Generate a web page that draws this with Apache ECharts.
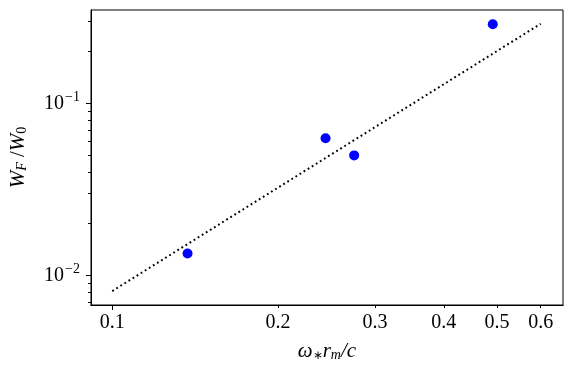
<!DOCTYPE html>
<html>
<head>
<meta charset="utf-8">
<script src="https://cdn.jsdelivr.net/npm/echarts@6/dist/echarts.min.js"></script>
<style>
  html, body { margin: 0; padding: 0; background: #fff; }
  #chart { width: 571px; height: 372px; }
</style>
</head>
<body>
<div id="chart"></div>
<script>
// 数据
const omega = [0.137, 0.244, 0.275, 0.491]
const wRatio = [0.0134, 0.0626, 0.0498, 0.288]
const fitX = [0.1, 0.6]
const fitY = [0.0081, 0.29]

// 刻度
const xLabels = [0.1, 0.2, 0.3, 0.4, 0.5, 0.6]
const xMajor = [0.1]
const xMinor = [0.2, 0.3, 0.4, 0.5, 0.6]
const yMajor = [0.01, 0.1]
const yMinor = [0.007, 0.008, 0.009, 0.02, 0.03, 0.04, 0.05, 0.06, 0.07, 0.08, 0.09, 0.2, 0.3]

const font = 'Liberation Serif'
const xRange = [0.0915, 0.6586]
const yRange = [0.00672, 0.3487]

const chart = echarts.init(document.getElementById('chart'))

const baseX = {
  type: 'log',
  gridIndex: 0,
  position: 'bottom',
  min: xRange[0],
  max: xRange[1],
  splitLine: { show: false },
  axisLine: { lineStyle: { color: '#000', width: 1 } }
}
const baseY = {
  type: 'log',
  gridIndex: 0,
  position: 'left',
  min: yRange[0],
  max: yRange[1],
  splitLine: { show: false },
  axisLine: { lineStyle: { color: '#000', width: 1 } }
}

const option = {
  animation: false,
  grid: {
    left: 91, right: 8, top: 10, bottom: 67,
    outerBoundsMode: 'none',
    containLabel: false,
    show: true, borderColor: '#000', borderWidth: 1
  },
  xAxis: [
    {
      ...baseX,
      name: '{i|ω}{s|∗}{i|r}{si|m}{i|/c}',
      nameLocation: 'middle',
      nameGap: 35,
      nameTextStyle: {
        rich: {
          i: { fontFamily: font, fontStyle: 'italic', fontSize: 21, color: '#000' },
          s: { fontFamily: font, fontSize: 12, color: '#000', padding: [10, 0, 0, 0] },
          si: { fontFamily: font, fontStyle: 'italic', fontSize: 14, color: '#000', padding: [8, 0, 0, 0] }
        }
      },
      axisTick: { customValues: xMajor, length: 5, lineStyle: { color: '#000' } },
      axisLabel: {
        customValues: xLabels,
        fontFamily: font, fontSize: 20, color: '#000', margin: 8,
        formatter: v => String(Math.round(v * 10) / 10)
      }
    },
    {
      ...baseX,
      axisTick: { customValues: xMinor, length: 3, lineStyle: { color: '#000' } },
      axisLabel: { show: false }
    }
  ],
  yAxis: [
    {
      ...baseY,
      name: '{i|W}{si|F}{n| /}{i|W}{s|0}',
      nameLocation: 'middle',
      nameGap: 62,
      nameTextStyle: {
        rich: {
          i: { fontFamily: font, fontStyle: 'italic', fontSize: 21, color: '#000' },
          n: { fontFamily: font, fontSize: 21, color: '#000' },
          si: { fontFamily: font, fontStyle: 'italic', fontSize: 14, color: '#000', padding: [8, 0, 0, 0] },
          s: { fontFamily: font, fontSize: 14, color: '#000', padding: [8, 0, 0, 0] }
        }
      },
      axisTick: { customValues: yMajor, length: 5, lineStyle: { color: '#000' } },
      axisLabel: {
        customValues: yMajor,
        margin: 11,
        formatter: v => '{b|10}{e|\u2212' + Math.round(-Math.log10(v)) + '}',
        rich: {
          b: { fontFamily: font, fontSize: 20, color: '#000' },
          e: { fontFamily: font, fontSize: 14, color: '#000', padding: [0, 0, 12, 1] }
        }
      }
    },
    {
      ...baseY,
      axisTick: { customValues: yMinor, length: 3, lineStyle: { color: '#000' } },
      axisLabel: { show: false }
    }
  ],
  series: [
    {
      type: 'line',
      data: fitX.map((x, i) => [x, fitY[i]]),
      showSymbol: false,
      lineStyle: { color: '#000', width: 2, type: [1.8, 3] },
      z: 2
    },
    {
      type: 'scatter',
      data: omega.map((x, i) => [x, wRatio[i]]),
      symbolSize: 10,
      itemStyle: { color: '#0000ff', opacity: 1 },
      z: 3
    }
  ]
}

chart.setOption(option)
</script>
</body>
</html>
